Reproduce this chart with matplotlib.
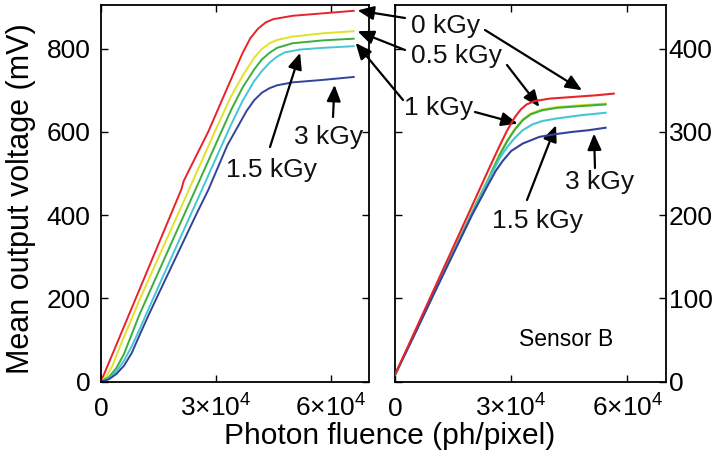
import matplotlib
matplotlib.use('Agg')
import matplotlib.pyplot as plt

plt.rcParams['font.family'] = ['Liberation Sans', 'DejaVu Sans']
plt.rcParams['mathtext.fontset'] = 'custom'
plt.rcParams['mathtext.rm'] = 'Liberation Sans'
plt.rcParams['mathtext.it'] = 'Liberation Sans:italic'

# dose labels and colours
doses = ['0 kGy', '0.5 kGy', '1 kGy', '1.5 kGy', '3 kGy']
colors = ['#e8232b', '#e3e12a', '#3cae3a', '#45c6d6', '#33439b']

# ---- left panel (sensor A), photon fluence vs mean output (mV)
a_x_red = [0, 5000, 10000, 15000, 20000, 21000, 21600, 25000, 28000, 33000, 37000,
           39000, 41000, 43000, 45000, 50000, 58000, 66000]
a_v_red = [0, 110, 220, 330, 440, 462, 482, 545, 600, 706, 790,
           825, 848, 863, 871, 879, 885, 891]
a_x_yel = [0, 1500, 3000, 5000, 10000, 15000, 20000, 25000, 30000, 34000, 37000,
           40000, 42000, 44000, 46000, 50000, 58000, 66000]
a_v_yel = [0, 14, 38, 85, 195, 298, 400, 503, 606, 686, 735,
           778, 799, 813, 821, 829, 837, 842]
a_x_grn = [0, 2000, 4000, 6000, 10000, 15000, 20000, 25000, 30000, 34000, 37000,
           40000, 42000, 44000, 46000, 50000, 58000, 66000]
a_v_grn = [0, 10, 32, 66, 160, 263, 366, 468, 571, 653, 707,
           750, 774, 790, 802, 813, 820, 824]
a_x_cyn = [0, 2000, 4000, 6000, 8000, 10000, 15000, 20000, 25000, 30000, 34000,
           37000, 40000, 42000, 44000, 46000, 48000, 52000, 58000, 66000]
a_v_cyn = [0, 7, 24, 50, 84, 124, 228, 331, 433, 536, 618,
           675, 722, 746, 766, 781, 791, 798, 802, 806]
a_x_blu = [0, 2000, 4000, 6000, 8000, 10000, 12600, 15000, 20000, 25000, 28000,
           33000, 36000, 38000, 40000, 42000, 44000, 46000, 50000, 58000, 66000]
a_v_blu = [0, 5, 18, 38, 68, 110, 163, 210, 307, 404, 460,
           568, 617, 650, 676, 694, 705, 712, 719, 725, 732]

# ---- right panel (sensor B)
b_x_red = [0, 5000, 10000, 15000, 20000, 24000, 27000, 29000, 31000, 32500, 34000,
           36000, 40000, 46000, 52000, 56500]
b_v_red = [8, 59, 110, 161, 212, 253, 283, 302, 318, 327, 333,
           337, 340, 342, 344, 346]
b_x_yel = [0, 5000, 10000, 15000, 20000, 24000, 27000, 29000, 31000, 33000, 35000,
           38000, 42000, 48000, 54400]
b_v_yel = [8, 57, 106, 155, 205, 243, 273, 290, 304, 315, 322,
           327, 330, 332, 334]
b_x_grn = [0, 5000, 10000, 15000, 20000, 24000, 27000, 29000, 31000, 33000, 35000,
           38000, 42000, 48000, 54400]
b_v_grn = [8, 57, 106, 155, 204, 242, 272, 289, 303, 314, 321,
           326, 329, 331, 333]
b_x_cyn = [0, 5000, 10000, 15000, 20000, 24000, 27000, 29000, 31000, 33000, 35500,
           38000, 41600, 48000, 54400]
b_v_cyn = [8, 56, 105, 154, 203, 241, 268, 282, 293, 302, 309,
           313, 316, 320, 323]
b_x_blu = [0, 5000, 10000, 15000, 20000, 24000, 26000, 27800, 30000, 33000, 37300,
           41000, 45800, 50000, 54400]
b_v_blu = [8, 56, 105, 153, 201, 236, 253, 265, 277, 286, 294,
           297, 300, 302, 305]

x_ticks = [0, 30000, 60000]
x_ticklabels = ['0', r'$3{\times}10^4$', r'$6{\times}10^4$']
a_yticks = [0, 200, 400, 600, 800]
b_yticks = [0, 100, 200, 300, 400]

W, H = 721, 453
fig = plt.figure(figsize=(W / 100, H / 100), dpi=100)
ax1 = fig.add_axes([101 / W, 71.5 / H, 268 / W, 376.5 / H])
ax2 = fig.add_axes([395 / W, 71.5 / H, 271 / W, 376.5 / H])

a_series = [(a_x_red, a_v_red), (a_x_yel, a_v_yel), (a_x_grn, a_v_grn),
            (a_x_cyn, a_v_cyn), (a_x_blu, a_v_blu)]
b_series = [(b_x_red, b_v_red), (b_x_yel, b_v_yel), (b_x_grn, b_v_grn),
            (b_x_cyn, b_v_cyn), (b_x_blu, b_v_blu)]

for (xs, vs), c in zip(a_series, colors):
    ax1.plot(xs, vs, color=c, lw=1.4)
# in panel B the red curve sits on top
for (xs, vs), c, z in zip(b_series, colors, [6, 2, 3, 4, 5]):
    ax2.plot(xs, vs, color=c, lw=1.5, zorder=z)

for ax in (ax1, ax2):
    ax.set_xlim(0, 70000)
    ax.set_xticks(x_ticks)
    ax.set_xticklabels(x_ticklabels, va='baseline')
    ax.tick_params(direction='in', length=5, width=1, labelsize=19,
                   top=True, right=True)
    ax.tick_params(axis='x', pad=25)
    for s in ax.spines.values():
        s.set_linewidth(1.3)
    ax.patch.set_visible(False)

ax1.set_ylim(0, 905)
ax1.set_yticks(a_yticks)
ax1.tick_params(axis='y', pad=7.5)
ax2.set_ylim(0, 452.5)
ax2.set_yticks(b_yticks)
ax2.tick_params(axis='y', labelleft=False, labelright=True, pad=2)

fig.text(21 / W, 254 / H, 'Mean output voltage (mV)', rotation=90,
         ha='center', va='center', fontsize=22)
fig.text(390 / W, 9 / H, 'Photon fluence (ph/pixel)',
         ha='center', va='baseline', fontsize=21.5)
fig.text(566 / W, 113 / H, 'Sensor B', ha='center', va='center', fontsize=16.5)

txt = '#111111'
labels_px = [('0 kGy', 446, 427), ('0.5 kGy', 456, 397), ('1 kGy', 439, 345),
             ('3 kGy', 329, 316), ('1.5 kGy', 272, 283),
             ('1.5 kGy', 538, 232), ('3 kGy', 600, 271)]
for s, px, py in labels_px:
    fig.text(px / W, py / H, s, ha='center', va='center', fontsize=19, color=txt)

# arrows: (axes, tip in data units, tail in figure pixels)
arrows = [
    (ax1, (67000, 892), (405, 435)),
    (ax2, (48300, 350), (485, 423)),
    (ax1, (67000, 842), (405, 403)),
    (ax2, (37300, 330), (507, 388)),
    (ax1, (66500, 814), (403, 353)),
    (ax2, (31700, 310), (475, 341)),
    (ax1, (52000, 790), (270, 306)),
    (ax1, (61000, 713), (333, 336)),
    (ax2, (41600, 308), (527, 253)),
    (ax2, (51400, 298), (595, 285)),
]
for ax, tip, tail in arrows:
    ax.annotate('', xy=tip, xycoords='data', xytext=tail,
                textcoords='figure pixels', annotation_clip=False,
                arrowprops=dict(arrowstyle='-|>,head_length=0.7,head_width=0.3',
                                color='black', lw=1.6, shrinkA=0, shrinkB=0,
                                mutation_scale=14))

fig.savefig('out.png', dpi=100)
